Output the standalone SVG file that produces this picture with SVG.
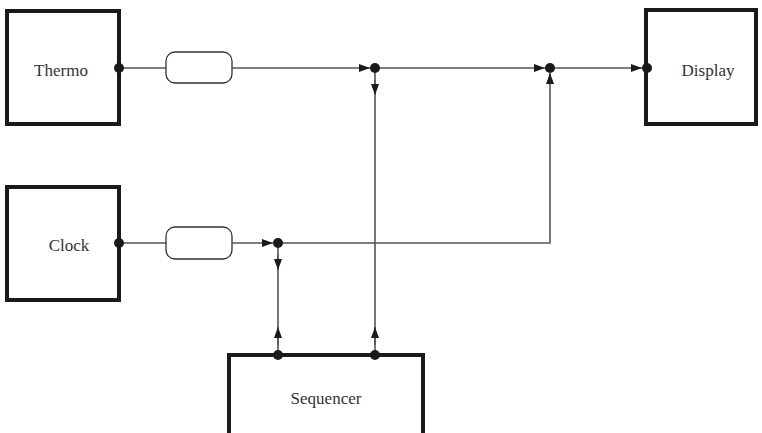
<svg xmlns="http://www.w3.org/2000/svg" width="762" height="433" viewBox="0 0 762 433">
<style>
.box{fill:#fff;stroke:#1a1a1a;stroke-width:4}
.lbl{font-family:"Liberation Serif","Times New Roman",serif;font-size:17px;fill:#333;text-anchor:middle}
.wire{fill:none;stroke:#555;stroke-width:1.6}
.buf{fill:#fff;stroke:#333;stroke-width:1.3}
.dot{fill:#1a1a1a}
</style>
<defs>
<marker id="ah" markerUnits="userSpaceOnUse" markerWidth="11" markerHeight="9" refX="11" refY="4.5" orient="auto">
<path d="M0,0.5 L11,4.5 L0,8.5 z" fill="#1a1a1a"/>
</marker>
</defs>
<g id="connectors">
<path class="wire" d="M119,68 H166"/>
<rect class="buf" x="166" y="52" width="66" height="31" rx="9"/>
<path class="wire" d="M232,68 H370" marker-end="url(#ah)"/>
<path class="wire" d="M375,68 H545" marker-end="url(#ah)"/>
<path class="wire" d="M550,68 H642" marker-end="url(#ah)"/>
<path class="wire" d="M375,68 V355"/>
<path class="wire" d="M375,80 V95" marker-end="url(#ah)"/>
<path class="wire" d="M375,345 V327" marker-end="url(#ah)"/>
<path class="wire" d="M119,243 H166"/>
<rect class="buf" x="166" y="227" width="66" height="32" rx="9"/>
<path class="wire" d="M232,243 H273" marker-end="url(#ah)"/>
<path class="wire" d="M278,243 H550 V73" marker-end="url(#ah)"/>
<path class="wire" d="M278,243 V355"/>
<path class="wire" d="M278,255 V270" marker-end="url(#ah)"/>
<path class="wire" d="M278,345 V327" marker-end="url(#ah)"/>
<circle class="dot" cx="375" cy="68" r="5"/>
<circle class="dot" cx="550" cy="68" r="5"/>
<circle class="dot" cx="278" cy="243" r="5"/>
</g>
<g id="thermo">
<rect class="box" x="7" y="11" width="112" height="113"/>
<text class="lbl" x="61" y="76">Thermo</text>
<circle class="dot" cx="119" cy="68" r="5"/>
</g>
<g id="clock">
<rect class="box" x="7" y="187" width="112" height="113"/>
<text class="lbl" x="69" y="251">Clock</text>
<circle class="dot" cx="119" cy="243" r="5"/>
</g>
<g id="display">
<rect class="box" x="646" y="10" width="110" height="114"/>
<text class="lbl" x="708" y="76">Display</text>
<circle class="dot" cx="647" cy="68" r="5"/>
</g>
<g id="sequencer">
<rect class="box" x="229" y="355" width="194" height="90"/>
<text class="lbl" x="326" y="404">Sequencer</text>
<circle class="dot" cx="278" cy="355" r="5"/>
<circle class="dot" cx="375" cy="355" r="5"/>
</g>
</svg>
